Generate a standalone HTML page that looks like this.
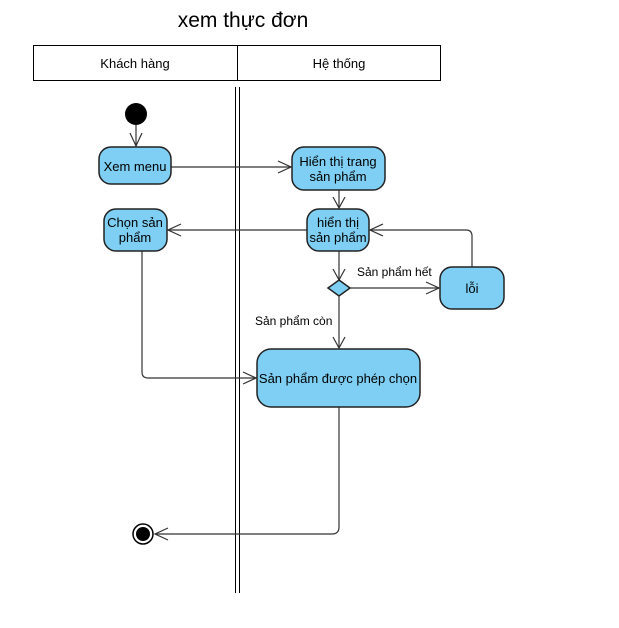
<!DOCTYPE html>
<html><head><meta charset="utf-8"><style>
html,body{margin:0;padding:0;background:#fff;}
svg{display:block;font-family:"Liberation Sans",sans-serif;}
</style></head><body>
<svg width="619" height="628" viewBox="0 0 619 628" xmlns="http://www.w3.org/2000/svg">
<text x="243" y="27" font-size="21" text-anchor="middle" fill="#000">xem thực đơn</text>
<rect x="33.5" y="45.5" width="407" height="35" fill="#fff" stroke="#000" stroke-width="1"/>
<line x1="237.5" y1="45" x2="237.5" y2="81" stroke="#000"/>
<text x="135" y="68" font-size="13" text-anchor="middle">Khách hàng</text>
<text x="339" y="68" font-size="13" text-anchor="middle">Hệ thống</text>
<line x1="235.5" y1="87" x2="235.5" y2="593" stroke="#000"/>
<line x1="239.5" y1="87" x2="239.5" y2="593" stroke="#000"/>
<g fill="none" stroke="#333" stroke-width="1.2">
<line x1="136" y1="124" x2="136" y2="146"/><polyline points="130,133 136,146 142,133"/>
<line x1="171" y1="167" x2="291" y2="167"/><polyline points="278,161 291,167 278,173"/>
<line x1="339" y1="190" x2="339" y2="208"/><polyline points="333,197 339,208 345,197"/>
<line x1="307" y1="230" x2="168" y2="230"/><polyline points="181,224 168,230 181,236"/>
<path d="M472,267 V236 Q472,230 466,230 H370"/><polyline points="383,224 370,230 383,236"/>
<line x1="339" y1="251" x2="339" y2="280"/><polyline points="333,269 339,280 345,269"/>
<line x1="350" y1="288" x2="439" y2="288"/><polyline points="426,282 439,288 426,294"/>
<line x1="339" y1="296" x2="339" y2="348"/><polyline points="333,337 339,348 345,337"/>
<path d="M142,251 V372 Q142,378 148,378 H256"/><polyline points="243,372 256,378 243,384"/>
<path d="M339,407 V527 Q339,534 332,534 H155"/><polyline points="168,528 155,534 168,540"/>
</g>
<circle cx="136" cy="114" r="11" fill="#000"/>
<circle cx="143" cy="534" r="10" fill="#fff" stroke="#000" stroke-width="1.5"/>
<circle cx="143" cy="534" r="7" fill="#000"/>
<g fill="#7ecff3" stroke="#222" stroke-width="1.5">
<rect x="99" y="147" width="72" height="37" rx="12"/>
<rect x="292" y="147" width="93" height="43" rx="12"/>
<rect x="307" y="209" width="62" height="42" rx="12"/>
<rect x="104" y="209" width="63" height="42" rx="12"/>
<rect x="440" y="267" width="64" height="42" rx="12"/>
<rect x="257" y="349" width="163" height="58" rx="14"/>
<polygon points="339,280 350,288 339,296 328,288"/>
</g>
<g font-size="13" text-anchor="middle" fill="#000">
<text x="135" y="171">Xem menu</text>
<text x="338" y="166">Hiển thị trang</text>
<text x="338" y="181">sản phẩm</text>
<text x="338" y="227">hiển thị</text>
<text x="338" y="242">sản phẩm</text>
<text x="135" y="227">Chọn sản</text>
<text x="135" y="242">phẩm</text>
<text x="472" y="293">lỗi</text>
<text x="338" y="383">Sản phẩm được phép chọn</text>
</g>
<g font-size="12" fill="#000">
<text x="357" y="276">Sản phẩm hết</text>
<text x="255" y="325">Sản phẩm còn</text>
</g>
</svg>
</body></html>
